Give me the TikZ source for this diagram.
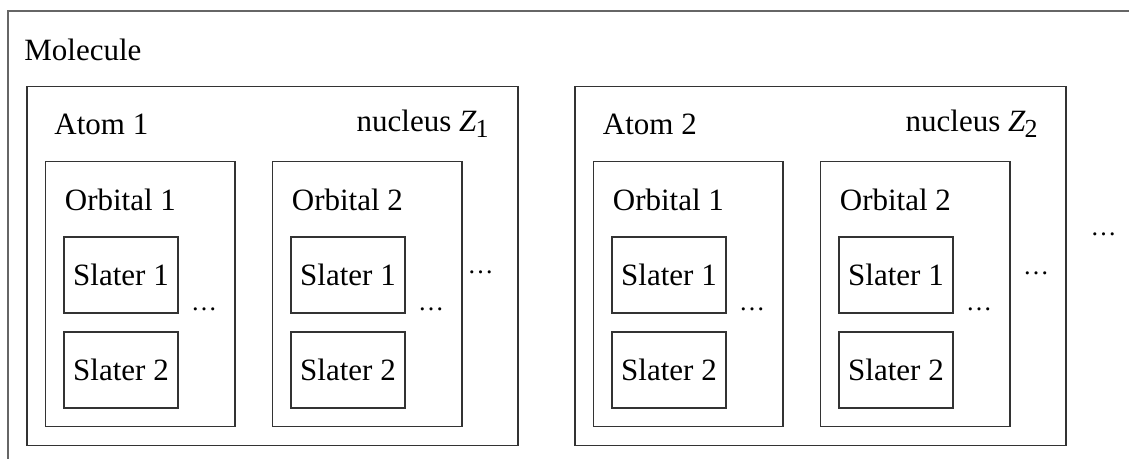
\documentclass[tikz,border=0pt]{standalone}
\usepackage{fontspec}
\setmainfont{Liberation Serif}
\usetikzlibrary{positioning}

\tikzset{
  box/.style={draw=black!80, line width=0.55pt, inner sep=0pt, outer sep=0pt, anchor=north west},
  atombox/.style={box, minimum width=245.5pt, minimum height=179.5pt},
  orbbox/.style={box, minimum width=94.75pt, minimum height=132.5pt},
  slabox/.style={box, minimum width=57pt, minimum height=38pt, anchor=north west},
  lbl/.style={inner sep=0pt, anchor=base west},
  more/.style={inner sep=0pt, font=\fontsize{13}{13}\selectfont}
}
\newcommand{\nucZ}[1]{nucleus \textit{Z}\kern-0.5pt\raisebox{-0.4ex}{\fontsize{13}{13}\selectfont #1}}

\begin{document}
\begin{tikzpicture}[x=0.5pt, y=-0.5pt, font=\fontsize{15.5}{18}\selectfont]
        \useasboundingbox (0,0) rectangle (1129,459);
        % molecule frame runs off the page
        \draw[black!60, line width=0.6pt] (8,459) |- (1129,11);
        \node[lbl] (mol) at (24,60.5) {Molecule};

        % first atom
        \node[atombox] (A1) at (27,86.5) {};
        \node[lbl] (A1lbl) at (54,135) {Atom 1};
        \node[lbl, anchor=base east] (A1nuc) at (489,132) {\nucZ{1}};
        \node[orbbox] (A1o1) at (45.5,161.5) {};
        \node[orbbox] (A1o2) at (272.5,161.5) {};
        \node[lbl] (A1o1lbl) at (64.5,211) {Orbital 1};
        \node[lbl] (A1o2lbl) at (291.5,211) {Orbital 2};
        \node[slabox] (A1o1s1) at (64,237) {Slater 1};
        \node[slabox] (A1o1s2) at (64,332) {Slater 2};
        \node[slabox] (A1o2s1) at (291,237) {Slater 1};
        \node[slabox] (A1o2s2) at (291,332) {Slater 2};
        \node[more] (A1o1dots) at (204,309) {\dots};
        \node[more] (A1o2dots) at (431,309) {\dots};
        \node[more] (A1dots) at (480.5,272.5) {\dots};

        % second atom
        \node[atombox] (A2) at (575,86.5) {};
        \node[lbl] (A2lbl) at (602.5,135) {Atom 2};
        \node[lbl, anchor=base east] (A2nuc) at (1038,132) {\nucZ{2}};
        \node[orbbox] (A2o1) at (593.5,161.5) {};
        \node[orbbox] (A2o2) at (820.5,161.5) {};
        \node[lbl] (A2o1lbl) at (612.5,211) {Orbital 1};
        \node[lbl] (A2o2lbl) at (839.5,211) {Orbital 2};
        \node[slabox] (A2o1s1) at (612,237) {Slater 1};
        \node[slabox] (A2o1s2) at (612,332) {Slater 2};
        \node[slabox] (A2o2s1) at (839,237) {Slater 1};
        \node[slabox] (A2o2s2) at (839,332) {Slater 2};
        \node[more] (A2o1dots) at (752,309) {\dots};
        \node[more] (A2o2dots) at (979,309) {\dots};
        \node[more] (A2dots) at (1036,273) {\dots};

        \node[more] (moldots) at (1103.5,234) {\dots};
\end{tikzpicture}
\end{document}
